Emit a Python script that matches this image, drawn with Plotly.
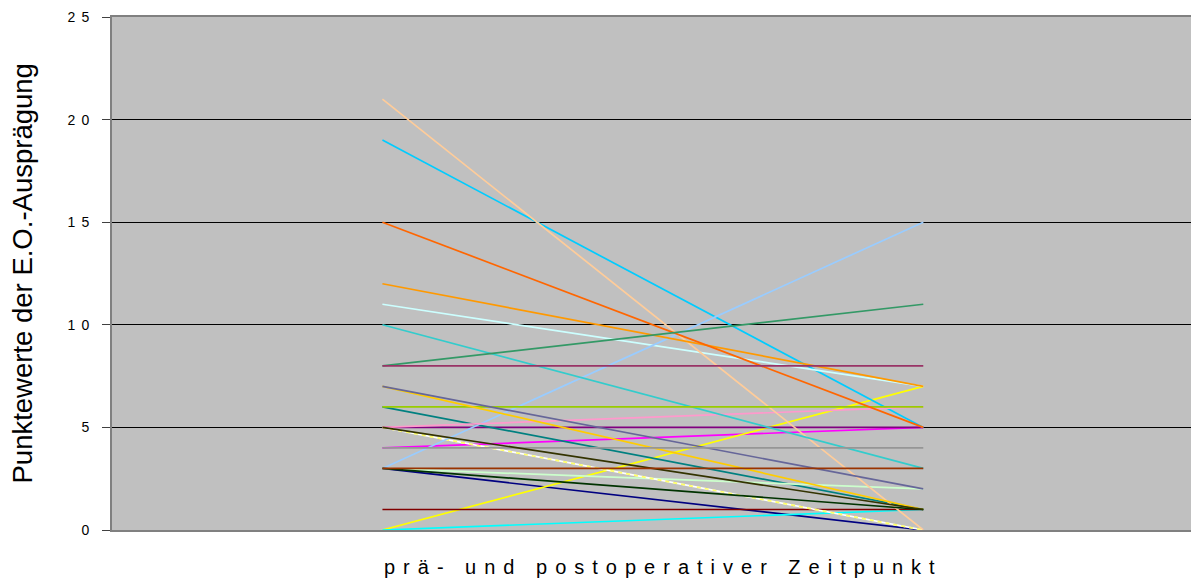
import plotly.graph_objects as go

# two time points, one line per patient
categories = ["prä", "post"]
pre_values = [3, 4, 0, 0, 5, 1, 6, 19, 11, 3, 5, 3, 5, 21, 10, 6, 7, 12, 15, 7, 4, 8, 3, 5, 3, 8]
post_values = [0, 5, 7, 1, 5, 1, 1, 5, 7, 2, 0, 15, 6, 0, 3, 6, 1, 7, 5, 2, 4, 11, 1, 1, 3, 8]
line_colors = ["#000080", "#FF00FF", "#FFFF00", "#00FFFF", "#800080", "#800000", "#008080",
               "#00CCFF", "#CCFFFF", "#CCFFCC", "#FFFF66", "#99CCFF", "#FF99CC", "#FFCC99",
               "#33CCCC", "#99CC00", "#FFCC00", "#FF9900", "#FF6600", "#666699", "#969696",
               "#339966", "#003300", "#333300", "#993300", "#993366"]
dashed_series = 10

y_ticks = [0, 5, 10, 15, 20, 25]
y_tick_text = ["0", "5", "10", "15", "20", "25"]

x_pos = list(range(len(categories)))


def spaced(s, px):
    return f'<span style="letter-spacing:{px}px">{s}</span>'


fig = go.Figure()
for i, (a, b) in enumerate(zip(pre_values, post_values)):
    if i == dashed_series:
        # white line under a dashed yellow one
        fig.add_trace(go.Scatter(x=x_pos, y=[a, b], mode="lines",
                                 line=dict(color="white", width=1.7), showlegend=False, hoverinfo="skip"))
        fig.add_trace(go.Scatter(x=x_pos, y=[a, b], mode="lines",
                                 line=dict(color=line_colors[i], width=1.7, dash="4px,4px"), showlegend=False))
    else:
        fig.add_trace(go.Scatter(x=x_pos, y=[a, b], mode="lines",
                                 line=dict(color=line_colors[i], width=1.7), showlegend=False))

fig.update_layout(
    width=1191, height=585, autosize=False,
    margin=dict(l=112, r=0, t=17, b=55),
    paper_bgcolor="white",
    plot_bgcolor="#C0C0C0",
    font=dict(family="Arial, Liberation Sans", color="black"),
    xaxis=dict(range=[-0.5, 1.495], showgrid=False, zeroline=False, showticklabels=False,
               showline=True, mirror=True, linecolor="#808080", linewidth=2, ticks=""),
    yaxis=dict(range=[0, 25], tickvals=y_ticks,
               ticktext=[spaced(t, 6) for t in y_tick_text],
               showgrid=True, gridcolor="black", gridwidth=1, zeroline=False,
               showline=True, linecolor="#808080", linewidth=2,
               ticks="outside", ticklen=8, tickcolor="#404040",
               ticklabelstandoff=4, tickfont=dict(size=14, color="black")),
    annotations=[
        dict(text="Punktewerte der E.O.-Ausprägung", textangle=-90, showarrow=False,
             xref="paper", yref="paper", x=0, y=0.5, xanchor="center", yanchor="middle",
             xshift=-90, font=dict(size=27.5)),
        dict(text=spaced("prä- und postoperativer Zeitpunkt", 8), showarrow=False,
             xref="paper", yref="paper", x=0, y=0, xanchor="center", yanchor="middle",
             xshift=551, yshift=-37, font=dict(size=20)),
    ],
)

fig.write_html("out.html", config={"displayModeBar": False},
               post_script="document.body.style.margin='0';document.body.style.overflow='hidden';")
